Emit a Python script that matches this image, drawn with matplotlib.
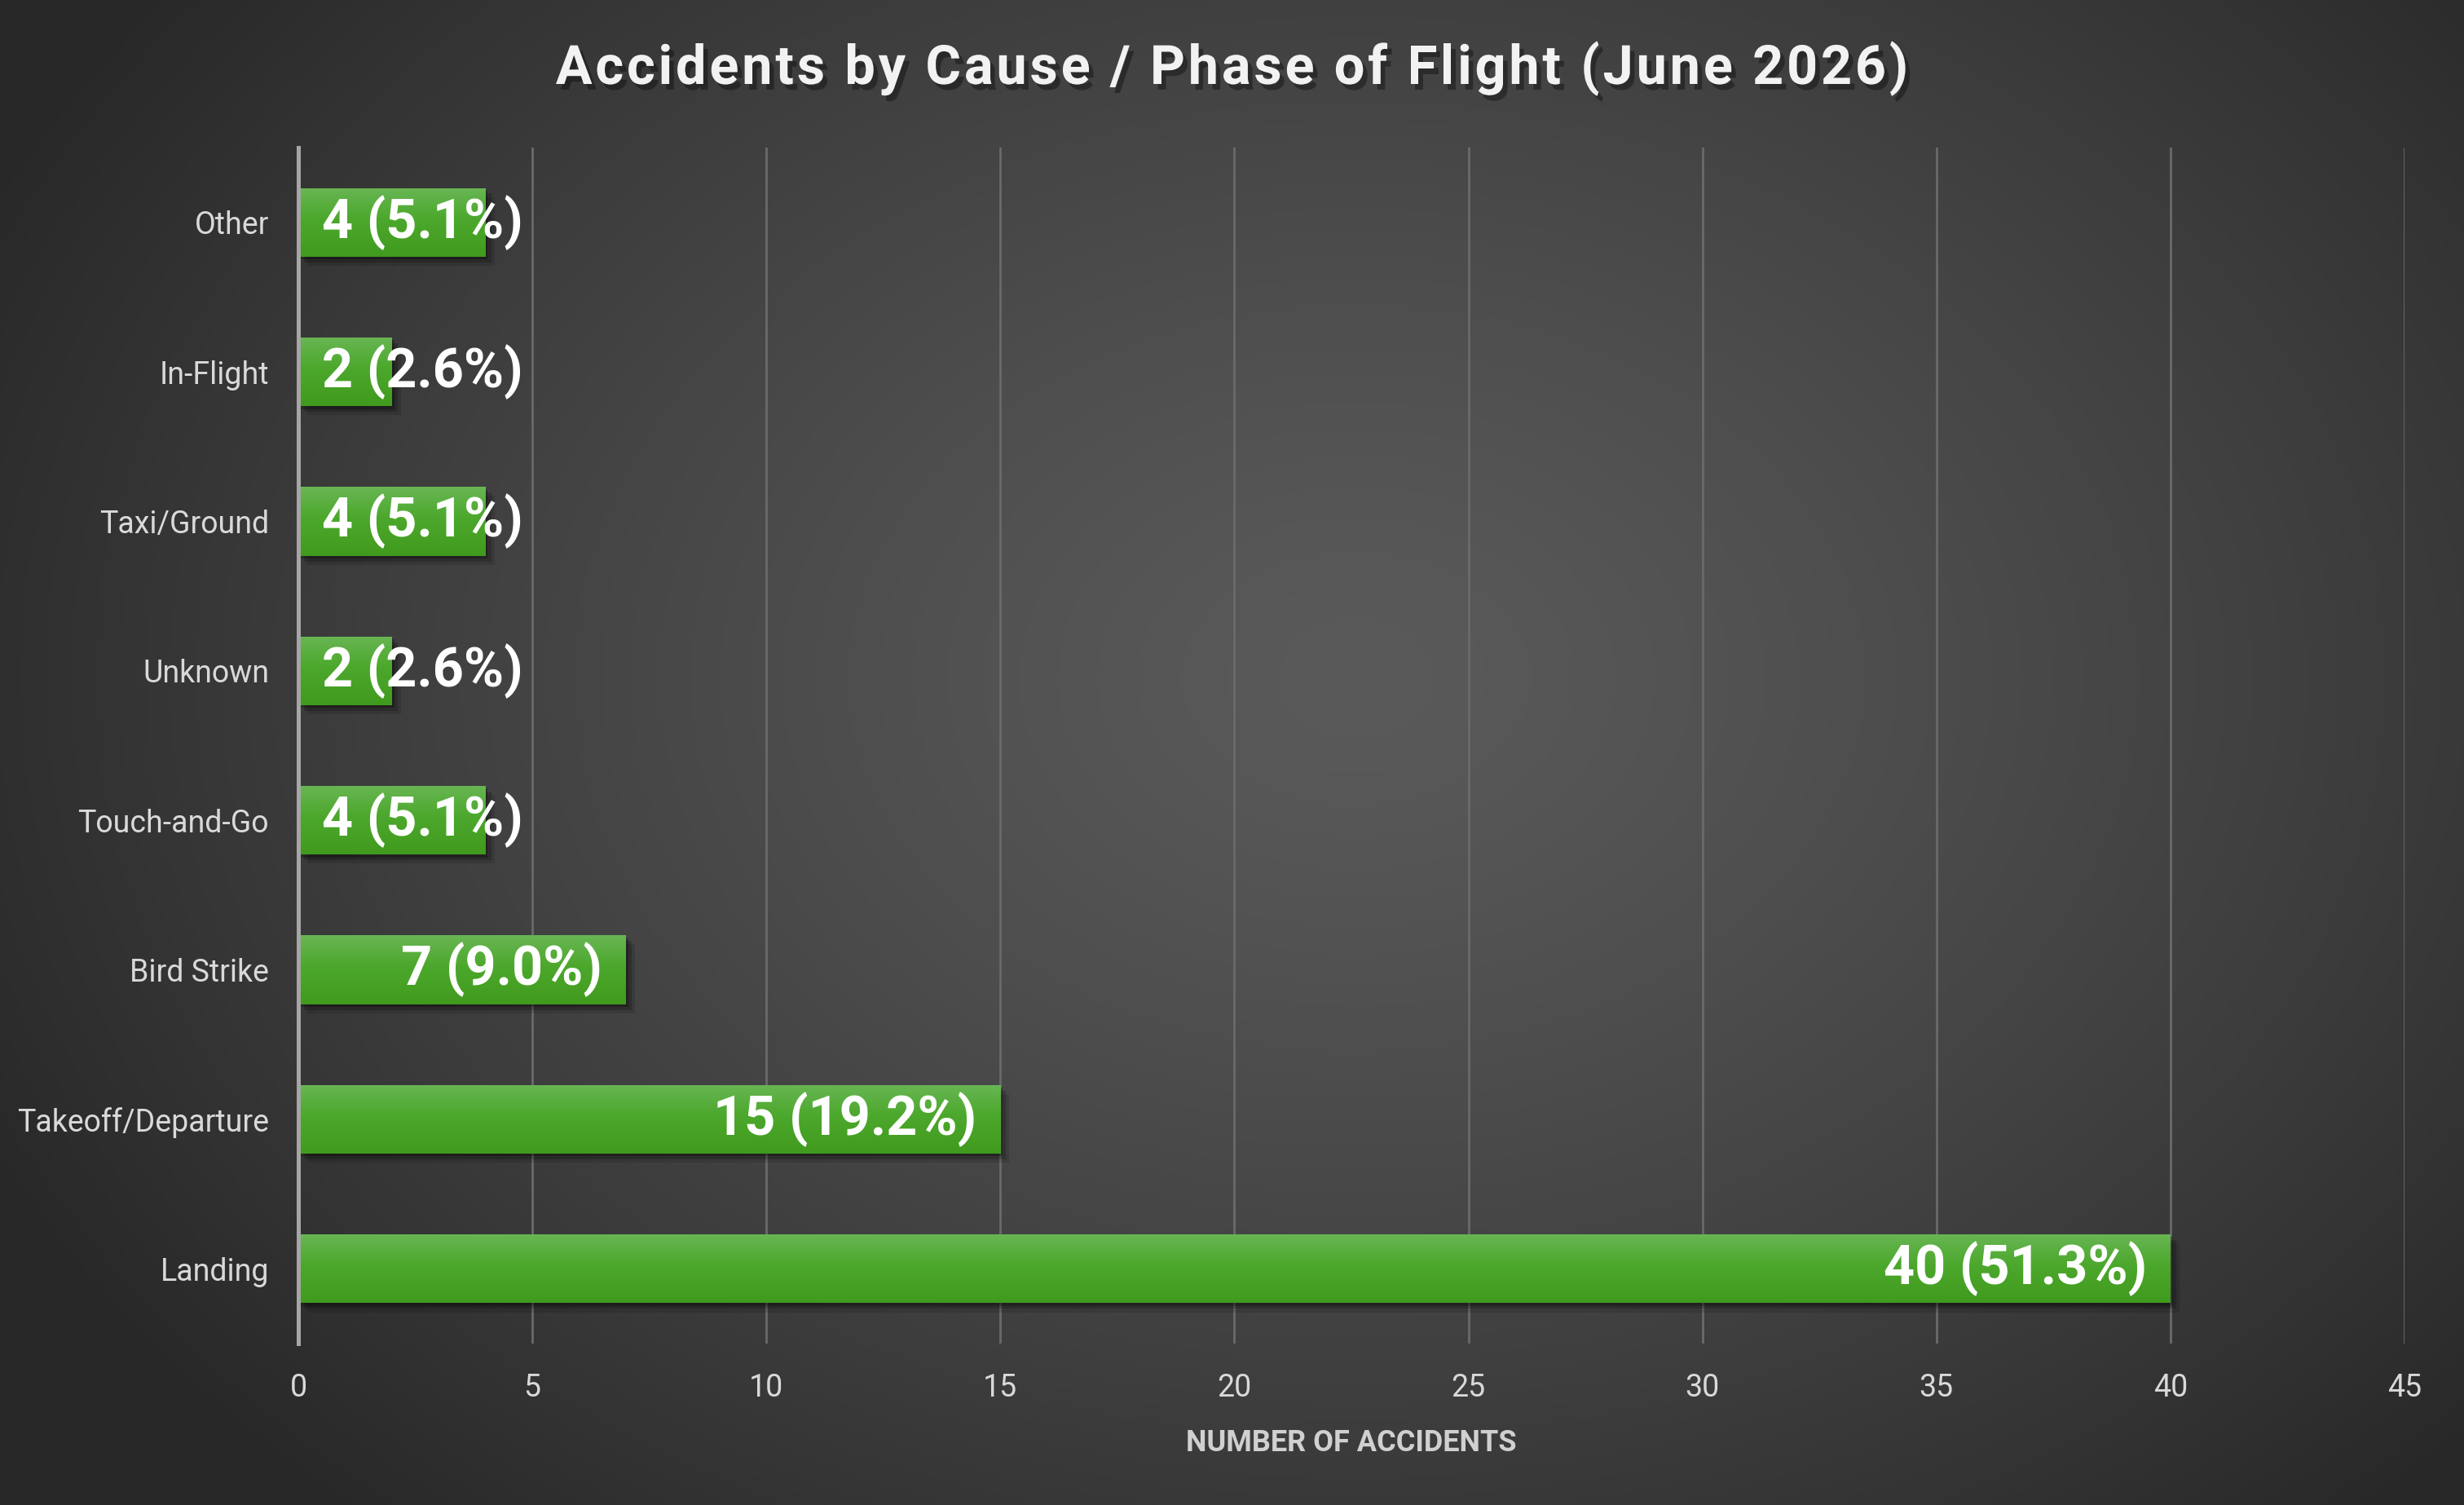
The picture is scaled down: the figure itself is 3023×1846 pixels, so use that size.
import numpy as np
import matplotlib
matplotlib.use("Agg")
from matplotlib import pyplot as plt
from matplotlib import patheffects as pe
from matplotlib.font_manager import FontProperties

# data (bottom to top)
categories = ['Landing', 'Takeoff/Departure', 'Bird Strike', 'Touch-and-Go',
              'Unknown', 'Taxi/Ground', 'In-Flight', 'Other']
counts = [40, 15, 7, 4, 2, 4, 2, 4]
x_ticks = [0, 5, 10, 15, 20, 25, 30, 35, 40, 45]

title = 'Accidents by Cause / Phase of Flight (June 2026)'
x_label = 'NUMBER OF ACCIDENTS'

plt.rcParams['font.family'] = ['Roboto', 'DejaVu Sans']

W, H, DPI = 3023, 1846, 200
fig = plt.figure(figsize=(W / DPI, H / DPI), dpi=DPI)

# radial gradient background
bg = fig.add_axes([0, 0, 1, 1], zorder=-10)
yy, xx = np.mgrid[0:H:4, 0:W:4]
r = np.sqrt(((xx - W * 0.55) / (W * 0.62)) ** 2 + ((yy - H * 0.45) / (H * 0.75)) ** 2)
r = np.clip(r, 0, 1)
shade = 0x5a - (0x5a - 0x28) * r ** 1.3
bg.imshow(np.dstack([shade, shade, shade]) / 255.0, aspect='auto', extent=[0, 1, 0, 1])
bg.set_axis_off()

ax = fig.add_axes([366 / W, 1 - 1648 / H, (2950 - 366) / W, (1648 - 181) / H])
ax.set_facecolor('none')

y = np.arange(len(categories))
bar_shadow = [pe.SimplePatchShadow(offset=(4, -4), shadow_rgbFace='black', alpha=0.12),
              pe.SimplePatchShadow(offset=(2.5, -2.5), shadow_rgbFace='black', alpha=0.18),
              pe.SimplePatchShadow(offset=(1, -1.2), shadow_rgbFace='black', alpha=0.25),
              pe.Normal()]
bars = ax.barh(y, counts, height=0.46, color='#4aa52c', zorder=3, path_effects=bar_shadow)

# vertical gradient on bars (row 0 = top)
grad = np.linspace(0, 1, 64)[:, None]
top = np.array([104, 182, 84]) / 255.0
mid = np.array([76, 168, 44]) / 255.0
bot = np.array([64, 154, 30]) / 255.0
cols = np.where(grad < 0.45, top + (mid - top) * (grad / 0.45),
                mid + (bot - mid) * ((grad - 0.45) / 0.55))
gimg = np.repeat(cols[:, None, :], 2, axis=1)
for b in bars:
    x0, y0 = b.get_x(), b.get_y()
    w, h = b.get_width(), b.get_height()
    im = ax.imshow(gimg, extent=[x0, x0 + w, y0, y0 + h], aspect='auto', zorder=4,
                   interpolation='bilinear', origin='upper')
    im.set_clip_path(b)

ax.set_xlim(0, 45)
ax.set_ylim(-0.5, len(categories) - 0.5)
ax.set_xticks(x_ticks)
ax.set_yticks(y)
ax.set_yticklabels(categories)
ax.tick_params(axis='y', length=0, pad=13, labelsize=13.5, labelcolor='#d9d9d9')
ax.tick_params(axis='x', length=0, pad=13, labelsize=13.5, labelcolor='#d9d9d9')
ax.grid(axis='x', color='#6a6a6a', linewidth=1.0, zorder=0)
ax.grid(axis='y', visible=False)
for s in ['top', 'right', 'bottom']:
    ax.spines[s].set_visible(False)
ax.spines['left'].set_color('#a6a6a6')
ax.spines['left'].set_linewidth(1.8)
ax.spines['left'].set_zorder(5)

ax.set_xlabel(x_label, fontsize=13, fontweight='bold', color='#d0d0d0')
ax.xaxis.set_label_coords(0.5, -0.071)

# value labels
total = sum(counts)
fig.canvas.draw()
renderer = fig.canvas.get_renderer()
px_per_unit = ax.transData.transform((1, 0))[0] - ax.transData.transform((0, 0))[0]
pad_pt = 10.5
for yi, c in zip(y, counts):
    txt = f'{c} ({c / total * 100:.1f}%)'
    t = ax.annotate(txt, (c, yi), xytext=(-pad_pt, 0), textcoords='offset points',
                    ha='right', va='center', fontsize=24, fontweight='bold',
                    color='white', zorder=6)
    tw = t.get_window_extent(renderer).width
    pad_px = pad_pt * DPI / 72
    if tw + 2 * pad_px > c * px_per_unit:
        t.remove()
        ax.annotate(txt, (0, yi), xytext=(pad_pt, 0), textcoords='offset points',
                    ha='left', va='center', fontsize=24, fontweight='bold',
                    color='white', zorder=6)

# title with letter spacing, drawn char by char
fp = FontProperties(family=['Roboto', 'DejaVu Sans'], weight='bold', size=24)
spacing = 3.8  # px between letters
widths = [renderer.get_text_width_height_descent(title[:i], fp, ismath=False)[0]
          for i in range(len(title) + 1)]
full_w = widths[-1] + spacing * (len(title) - 1)
x_start = W / 2 - full_w / 2
title_fx = [pe.SimplePatchShadow(offset=(2, -2.5), shadow_rgbFace='black', alpha=0.35),
            pe.Normal()]
for i, ch in enumerate(title):
    if ch == ' ':
        continue
    xpos = (x_start + widths[i] + spacing * i) / W
    fig.text(xpos, 1 - 103 / H, ch, ha='left', va='baseline', fontproperties=fp,
             color='#f2f2f2', path_effects=title_fx)

fig.savefig('out.png', dpi=DPI)
